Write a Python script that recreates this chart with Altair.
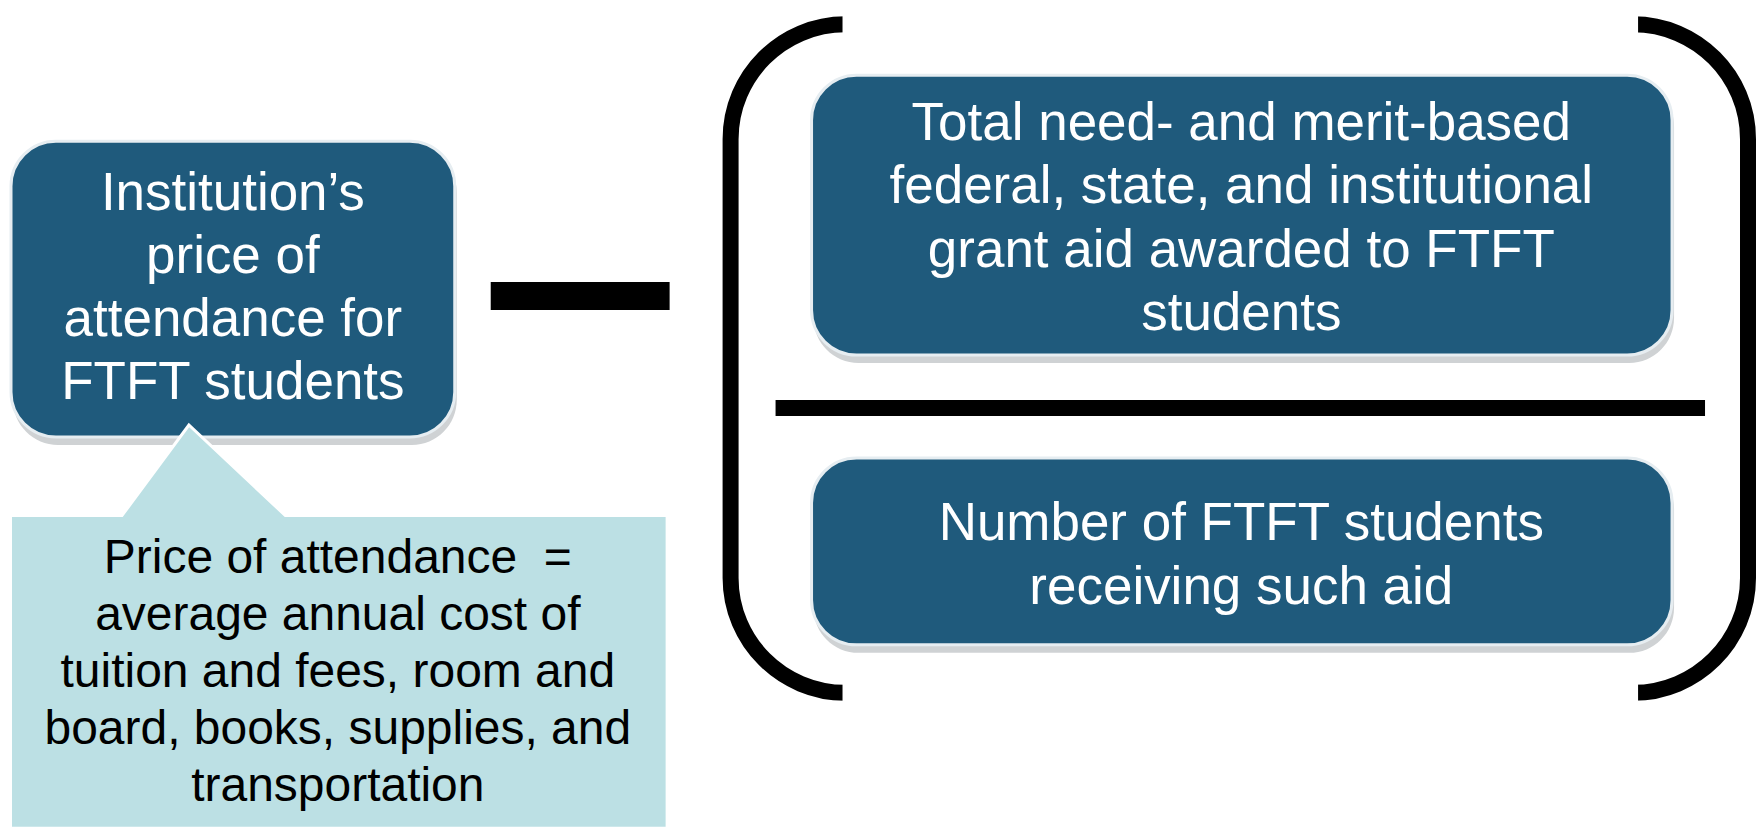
import altair as alt
import pandas as pd

# ---------------- content ----------------
left_box_lines = ["Institution’s", "price of", "attendance for", "FTFT students"]
callout_lines = [
    "Price of attendance\u00a0 =",
    "average annual cost of",
    "tuition and fees, room and",
    "board, books, supplies, and",
    "transportation",
]
numerator_lines = [
    "Total need- and merit-based",
    "federal, state, and institutional",
    "grant aid awarded to FTFT",
    "students",
]
denominator_lines = ["Number of FTFT students", "receiving such aid"]

# ---------------- layout (page pixels) ----------------
W, H = 1748, 814
OX, OY = 8, 8

left_box = [11, 455, 136, 432]          # x, x2, y, y2
num_box = [812, 1673, 70, 350]
den_box = [812, 1673, 453, 640]
callout_box = [12, 666, 512, 822]
minus_bar = [491, 670, 277, 305]
fraction_bar = [776, 1706, 395, 411]
bracket_box = [731, 1749, 19, 688]
bracket_covers_x = [843, 1639]
bracket_covers_y = [[3, 35], [672, 704]]

tri_x = [121, 189, 287]
tri_y = [512, 420, 512]
tri_base = 518

left_baselines = [205, 268, 331, 394]
callout_baselines = [568, 625, 682, 739, 796]
num_baselines = [135, 198, 262, 325]
den_baselines = [535, 599]

left_cx = 233
callout_cx = 338
right_cx = 1242

DARK = "#1f5a7c"
LIGHT = "#bce0e4"
SHADOW = "#cfd2d4"
EDGE = "#e6edf1"

xs = alt.Scale(domain=[OX, OX + W], nice=False, zero=False)
ys = alt.Scale(domain=[OY, OY + H], nice=False, zero=False, reverse=True)


def rect_df(boxes):
    return pd.DataFrame([{"x": b[0], "x2": b[1], "y": b[2], "y2": b[3]} for b in boxes])


def rect_layer(boxes, **mark):
    return alt.Chart(rect_df(boxes)).mark_rect(**mark).encode(
        x=alt.X("x:Q", scale=xs, axis=None),
        x2="x2:Q",
        y=alt.Y("y:Q", scale=ys, axis=None),
        y2="y2:Q",
    )


def text_layer(lines, baselines, cx, size, color):
    df = pd.DataFrame({"t": lines, "y": baselines, "x": [cx] * len(lines)})
    return alt.Chart(df).mark_text(
        font="Liberation Sans", fontSize=size, color=color,
        align="center", baseline="alphabetic",
    ).encode(
        x=alt.X("x:Q", scale=xs, axis=None),
        y=alt.Y("y:Q", scale=ys, axis=None),
        text="t:N",
    )


# bracket: rounded outline with top/bottom middles covered
bracket = rect_layer([bracket_box], cornerRadius=115, fillOpacity=0,
                     fill="white", stroke="black", strokeWidth=16)
covers = rect_layer([[bracket_covers_x[0], bracket_covers_x[1], cy[0], cy[1]]
                     for cy in bracket_covers_y], color="white")

boxes = [left_box, num_box, den_box]
shadows = rect_layer([[b[0] + 2, b[1] + 2, b[2] + 6, b[3] + 8] for b in boxes],
                     cornerRadius=45, color=SHADOW)
dark_boxes = rect_layer(boxes, cornerRadius=45, fill=DARK, stroke=EDGE, strokeWidth=3)

tri_df = pd.DataFrame({"x": tri_x, "y": tri_y, "y2": [tri_base] * 3})
triangle = alt.Chart(tri_df).mark_area(
    color=LIGHT, stroke="white", strokeWidth=3
).encode(
    x=alt.X("x:Q", scale=xs, axis=None),
    y=alt.Y("y:Q", scale=ys, axis=None),
    y2="y2:Q",
)
callout = rect_layer([callout_box], color=LIGHT)

bars = rect_layer([minus_bar, fraction_bar], color="black")

chart = alt.layer(
    bracket,
    covers,
    shadows,
    dark_boxes,
    triangle,
    callout,
    bars,
    text_layer(left_box_lines, left_baselines, left_cx, 53, "white"),
    text_layer(numerator_lines, num_baselines, right_cx, 53, "white"),
    text_layer(denominator_lines, den_baselines, right_cx, 53, "white"),
    text_layer(callout_lines, callout_baselines, callout_cx, 48, "black"),
).properties(
    width=W, height=H, padding=0, background="white"
).configure_view(stroke=None)

chart.save("out.html", embed_options={"renderer": "svg", "actions": False})
